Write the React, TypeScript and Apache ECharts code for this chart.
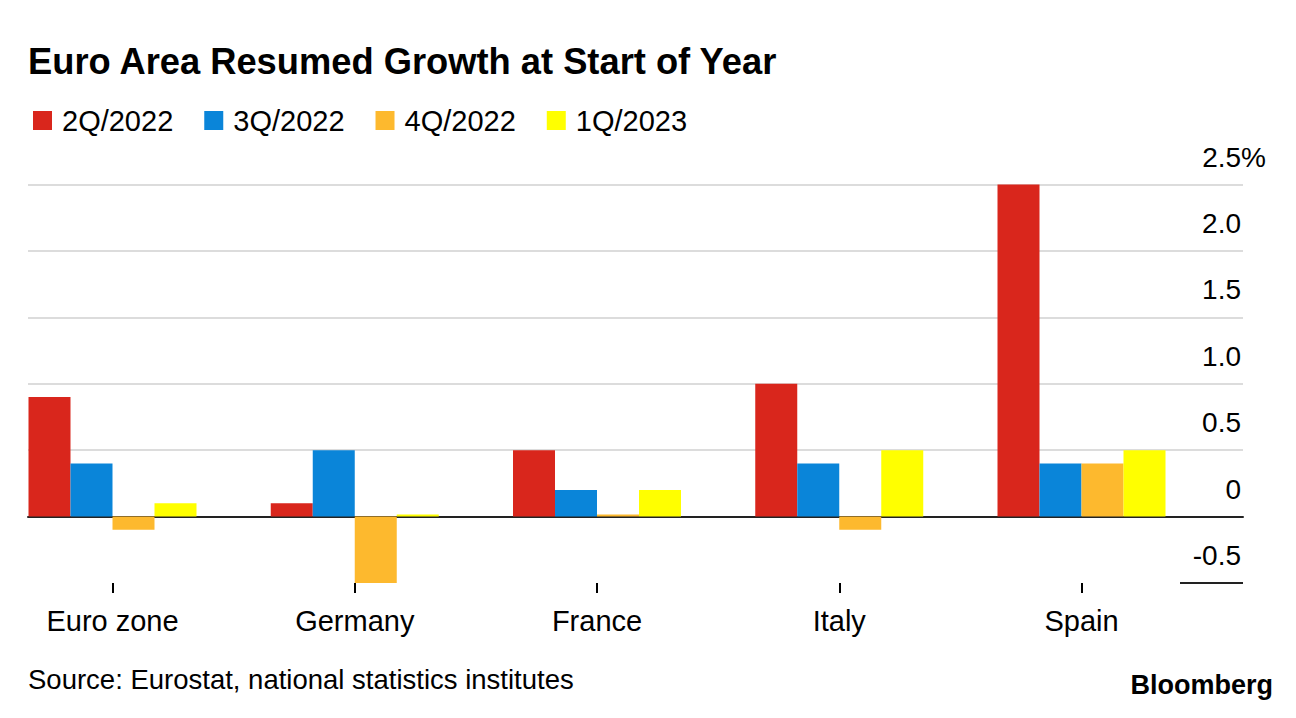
import React, { useEffect, useRef } from 'react';
import * as echarts from 'echarts';

const categories = ['Euro zone', 'Germany', 'France', 'Italy', 'Spain'];
const seriesNames = ['2Q/2022', '3Q/2022', '4Q/2022', '1Q/2023'];
const q2_2022 = [0.9, 0.1, 0.5, 1.0, 2.5];
const q3_2022 = [0.4, 0.5, 0.2, 0.4, 0.4];
const q4_2022 = [-0.1, -0.5, 0.0, -0.1, 0.4];
const q1_2023 = [0.1, 0.0, 0.2, 0.5, 0.5];
const yTickLabels = ['-0.5', '0', '0.5', '1.0', '1.5', '2.0', '2.5%'];
const colors = ['#d9261c', '#0a85d9', '#fdb92e', '#ffff00'];

const FONT = '"Liberation Sans", Arial, Helvetica, sans-serif';

export default function App() {
  const ref = useRef<HTMLDivElement>(null);
  useEffect(() => {
    const chart = echarts.init(ref.current as HTMLDivElement, null, { renderer: 'svg' });
    const values = [q2_2022, q3_2022, q4_2022, q1_2023];
    chart.setOption({
      animation: false,
      backgroundColor: '#ffffff',
      title: [
        {
          text: 'Euro Area Resumed Growth at Start of Year',
          left: 28,
          top: 43,
          padding: 0,
          textStyle: { fontFamily: FONT, fontSize: 36.3, fontWeight: 'bold', color: '#000' },
        },
        {
          text: 'Source: Eurostat, national statistics institutes',
          left: 28,
          top: 665,
          padding: 0,
          textStyle: { fontFamily: FONT, fontSize: 27.5, fontWeight: 'normal', color: '#000' },
        },
        {
          text: 'Bloomberg',
          right: 23,
          top: 671,
          padding: 0,
          textStyle: { fontFamily: FONT, fontSize: 27, fontWeight: 'bold', color: '#000' },
        },
      ],
      legend: {
        left: 33,
        top: 106,
        padding: 0,
        icon: 'rect',
        itemWidth: 19,
        itemHeight: 19,
        itemGap: 31,
        selectedMode: false,
        data: seriesNames,
        textStyle: { fontFamily: FONT, fontSize: 29, color: '#000', padding: [0, 0, 0, 5] },
      },
      grid: [
        { left: 112.5, right: 214.5, top: 184.5, bottom: 135 },
        { left: 28, right: 53, top: 184.5, bottom: 135 },
      ],
      xAxis: [
        {
          type: 'category',
          gridIndex: 0,
          data: categories,
          boundaryGap: false,
          axisLine: { show: false, onZero: false },
          axisTick: { show: true, length: 10, lineStyle: { color: '#000', width: 2 } },
          axisLabel: { fontFamily: FONT, fontSize: 29, color: '#000', margin: 23, interval: 0 },
          splitLine: { show: false },
        },
        {
          type: 'value',
          gridIndex: 1,
          min: 0,
          max: 1,
          axisLine: { show: true, onZero: true, lineStyle: { color: '#222', width: 2 } },
          axisTick: { show: false },
          axisLabel: { show: false },
          splitLine: { show: false },
        },
      ],
      yAxis: [
        {
          type: 'value',
          gridIndex: 0,
          min: -0.5,
          max: 2.5,
          interval: 0.5,
          show: false,
          splitLine: { show: false },
        },
        {
          type: 'value',
          gridIndex: 1,
          position: 'right',
          min: -0.5,
          max: 2.5,
          interval: 0.5,
          axisLine: { show: false },
          axisTick: { show: false },
          splitLine: {
            show: true,
            lineStyle: {
              width: 2,
              color: ['rgba(0,0,0,0)', '#222', '#dcdcdc', '#dcdcdc', '#dcdcdc', '#dcdcdc', '#dcdcdc'],
            },
          },
          axisLabel: {
            align: 'right',
            margin: 23,
            padding: [0, 0, 55, 0],
            formatter: (_v: number, i: number) => {
              const t = yTickLabels[i];
              return t.indexOf('%') >= 0 ? `{p|${t}}` : `{n|${t}}`;
            },
            rich: {
              p: { fontFamily: FONT, fontSize: 28, color: '#000' },
              n: { fontFamily: FONT, fontSize: 28, color: '#000', padding: [0, 25, 0, 0] },
            },
          },
        },
      ],
      series: values.map((data, i) => ({
        name: seriesNames[i],
        type: 'bar',
        xAxisIndex: 0,
        yAxisIndex: 0,
        data,
        barWidth: 42,
        barGap: '0%',
        barMinHeight: 2,
        clip: false,
        itemStyle: { color: colors[i] },
        emphasis: { disabled: true },
      })),
    });
    const yNeg = chart.convertToPixel({ yAxisIndex: 1 }, -0.5) as number;
    const xRight = chart.convertToPixel({ xAxisIndex: 1 }, 1) as number;
    chart.setOption({
      graphic: [
        {
          type: 'line',
          shape: { x1: xRight - 63, y1: yNeg, x2: xRight, y2: yNeg },
          style: { stroke: '#222', lineWidth: 2 },
        },
      ],
    });
    return () => chart.dispose();
  }, []);
  return (
    <div
      ref={ref}
      style={{ position: 'absolute', left: 0, top: 0, width: 1296, height: 718 }}
    />
  );
}
